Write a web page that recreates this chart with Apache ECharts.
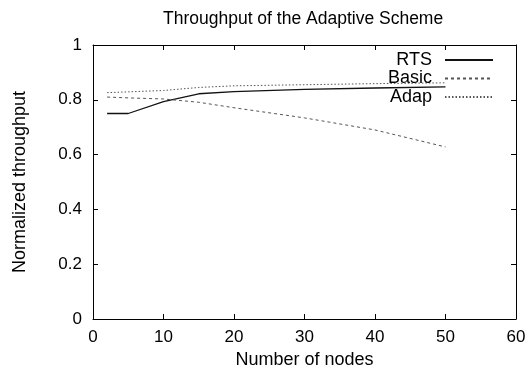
<!DOCTYPE html>
<html>
<head>
<meta charset="utf-8">
<script src="https://cdn.jsdelivr.net/npm/echarts@6/dist/echarts.min.js"></script>
<style>
  html, body { margin: 0; padding: 0; background: #fff; }
  #chart { width: 529px; height: 374px; }
</style>
</head>
<body>
<div id="chart"></div>
<script>
// values
const nodes = [2, 5, 10, 15, 20, 30, 40, 50]
const rts = [0.75, 0.75, 0.793, 0.822, 0.83, 0.838, 0.843, 0.847]
const basic = [0.81, 0.807, 0.803, 0.791, 0.771, 0.734, 0.69, 0.628]
const adap = [0.826, 0.829, 0.834, 0.845, 0.851, 0.855, 0.859, 0.862]

const FONT = '"Liberation Sans", Arial, sans-serif'

const pairs = (ys) => nodes.map((x, i) => [x, ys[i]])

const axisBase = {
  type: 'value',
  axisLine: { show: true, onZero: false, lineStyle: { color: '#000', width: 1 } },
  axisTick: { show: true, inside: true, length: 5, lineStyle: { color: '#000' } },
  splitLine: { show: false },
}

const chart = echarts.init(document.getElementById('chart'))

chart.setOption({
  animation: false,
  backgroundColor: '#fff',
  textStyle: { fontFamily: FONT },
  title: {
    text: 'Throughput of the Adaptive Scheme',
    left: 158,
    top: 5,
    textStyle: { fontFamily: FONT, fontSize: 17.5, fontWeight: 'normal', color: '#000' },
  },
  legend: {
    orient: 'vertical',
    right: 30,
    top: 46,
    align: 'right',
    itemWidth: 48,
    itemHeight: 14,
    itemGap: 0.5,
    itemStyle: { opacity: 0 },
    textStyle: { fontFamily: FONT, fontSize: 18, color: '#000', padding: [0, 8, 0, 0] },
    data: ['RTS', 'Basic', 'Adap'],
  },
  grid: { left: 93, right: 13, top: 45, bottom: 55 },
  xAxis: [
    {
      ...axisBase,
      min: 0,
      max: 60,
      interval: 10,
      name: 'Number of nodes',
      nameLocation: 'middle',
      nameGap: 32,
      nameTextStyle: { fontFamily: FONT, fontSize: 18, color: '#000' },
      axisLabel: { color: '#000', fontSize: 17, margin: 10, fontFamily: FONT },
    },
    {
      ...axisBase,
      position: 'top',
      min: 0,
      max: 60,
      interval: 10,
      axisLabel: { show: false },
    },
  ],
  yAxis: [
    {
      ...axisBase,
      min: 0,
      max: 1,
      interval: 0.2,
      name: 'Normalized throughput',
      nameLocation: 'middle',
      nameGap: 64,
      nameTextStyle: { fontFamily: FONT, fontSize: 18, color: '#000' },
      axisLabel: { color: '#000', fontSize: 17, margin: 11, fontFamily: FONT },
    },
    {
      ...axisBase,
      position: 'right',
      min: 0,
      max: 1,
      interval: 0.2,
      axisLabel: { show: false },
    },
  ],
  series: [
    {
      name: 'RTS',
      type: 'line',
      data: pairs(rts),
      symbol: 'none',
      lineStyle: { color: '#111', width: 1.3, type: 'solid' },
      itemStyle: { color: '#111' },
    },
    {
      name: 'Basic',
      type: 'line',
      data: pairs(basic),
      symbol: 'none',
      lineStyle: { color: '#555', width: 1, type: [3, 3] },
      itemStyle: { color: '#555' },
    },
    {
      name: 'Adap',
      type: 'line',
      data: pairs(adap),
      symbol: 'none',
      lineStyle: { color: '#555', width: 1, type: [1.5, 2] },
      itemStyle: { color: '#555' },
    },
  ],
})
</script>
</body>
</html>
